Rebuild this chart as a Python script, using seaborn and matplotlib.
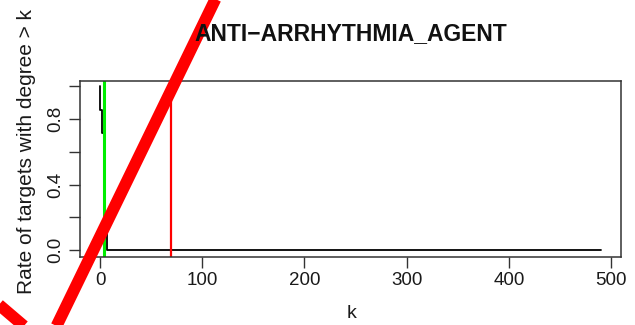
import matplotlib
matplotlib.use("Agg")
import matplotlib.pyplot as plt
from matplotlib.lines import Line2D
import seaborn as sns
import pandas as pd

# data
degree_k = [0, 2, 4, 5, 6.5, 490]
rate_gt_k = [1.0, 0.857, 0.714, 0.429, 0.125, 0.0]
green_cut = 4.2
red_cut = 69
x_ticks = [0, 100, 200, 300, 400, 500]
y_ticks = [0.0, 0.2, 0.4, 0.6, 0.8, 1.0]
y_labels = ["0.0", "", "0.4", "", "0.8", ""]
title = "ANTI\u2212ARRHYTHMIA_AGENT"

sns.set_style("white")
plt.rcParams["font.family"] = ["Liberation Sans", "DejaVu Sans"]

df = pd.DataFrame({"k": degree_k, "rate": rate_gt_k})

fig = plt.figure(figsize=(6.35, 3.25), dpi=100)
ax = fig.add_axes([80 / 635, 1 - 257 / 325, 541 / 635, 176 / 325])

sns.lineplot(data=df, x="k", y="rate", ax=ax, color="black", lw=1.3,
             drawstyle="steps-pre", estimator=None, sort=False)
ax.axvline(green_cut, color="#00ee00", lw=2.2)
ax.axvline(red_cut, color="#ff0000", lw=1.6)

ax.set_xlim(-19.6, 509.6)
ax.set_ylim(-0.043, 1.033)
ax.set_xticks(x_ticks)
ax.set_yticks(y_ticks)
ax.set_yticklabels(y_labels, rotation=90, va="center")
ax.tick_params(axis="both", direction="out", length=8, width=1,
               color="#333333", labelsize=13.5, labelcolor="#1a1a1a",
               left=True, bottom=True, pad=3)
for s in ax.spines.values():
    s.set_color("#333333")
    s.set_linewidth(1.1)
ax.set_xlabel("")
ax.set_ylabel("")

fig.text(350.5 / 635, 1 - 34 / 325, title, ha="center", va="center",
         fontsize=16.5, fontweight="bold", color="#111111")
fig.text(352 / 635, 1 - 313 / 325, "k", ha="center", va="center",
         fontsize=14, color="#1a1a1a")
fig.text(27 / 635, 1 - 152 / 325, "Rate of targets with degree > k",
         ha="center", va="center", rotation=90, fontsize=15, color="#1a1a1a")

# red cross-out strokes drawn over the whole figure
stroke1 = ([224.7, 47.3], [-20, 345])
stroke2 = ([-30, 45], [280, 344])
for xs, ys in (stroke1, stroke2):
    fig.add_artist(Line2D([x / 635 for x in xs], [1 - y / 325 for y in ys],
                          transform=fig.transFigure, color="#ff0000",
                          lw=8.5, solid_capstyle="butt", clip_on=False))

fig.savefig("out.png", dpi=100)
